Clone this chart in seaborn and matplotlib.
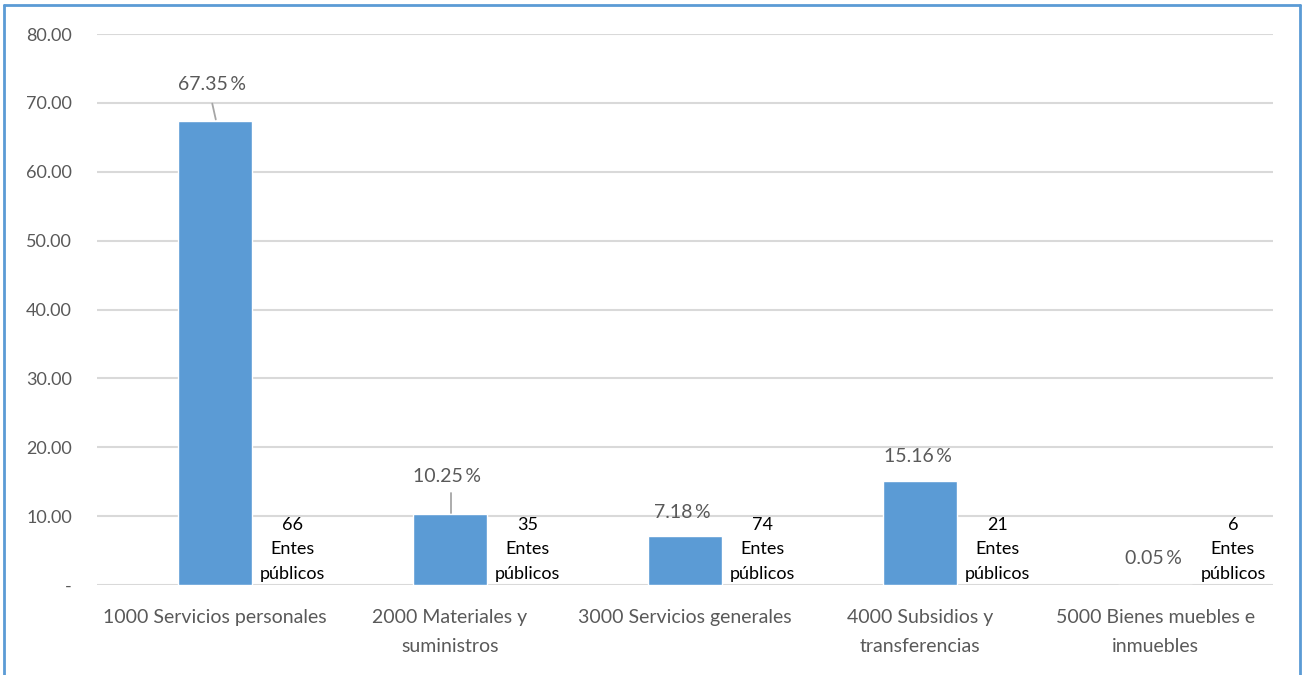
import matplotlib
matplotlib.use("Agg")
import matplotlib.pyplot as plt
import seaborn as sns
import pandas as pd
from matplotlib.lines import Line2D

categories = ["1000 Servicios personales", "2000 Materiales y\nsuministros",
              "3000 Servicios generales", "4000 Subsidios y\ntransferencias",
              "5000 Bienes muebles e\ninmuebles"]
porcentajes = [67.35, 10.25, 7.18, 15.16, 0.05]
entes = [66, 35, 74, 21, 6]
yticks = [0, 10, 20, 30, 40, 50, 60, 70, 80]
yticklabels = ["-", "10.00", "20.00", "30.00", "40.00", "50.00", "60.00", "70.00", "80.00"]

sns.set_theme(style="white")
plt.rcParams['font.family'] = ['Lato', 'DejaVu Sans']

fig = plt.figure(figsize=(13.04, 6.75), dpi=100)
ax = fig.add_axes([0.0744, 0.1333, 0.9018, 0.8163])

df = pd.DataFrame({"cat": categories, "pct": porcentajes})
sns.barplot(data=df, x="cat", y="pct", color="#5B9BD5", saturation=1,
            width=0.315, ax=ax, zorder=3)

ax.set_ylim(0, 80)
ax.set_xlim(-0.5, len(categories) - 0.5)
ax.set_yticks(yticks)
ax.set_yticklabels(yticklabels, fontsize=13, color="#595959")
ax.set_xticks(range(len(categories)))
ax.set_xticklabels(categories, fontsize=14, color="#595959", linespacing=1.9)
ax.tick_params(axis="x", length=0, pad=17)
ax.tick_params(axis="y", length=0, pad=18)
ax.set_xlabel("")
ax.set_ylabel("")
for s in ax.spines.values():
    s.set_visible(False)
for y in yticks:
    ax.axhline(y, color="#D9D9D9", lw=1.5, zorder=1)

gray = "#595959"
label_y = [72.6, 15.7, 10.6, 18.7, 3.9]
for i, (p, ly) in enumerate(zip(porcentajes, label_y)):
    ax.text(i - 0.01, ly, f"{p:.2f}\u2009%", ha="center", va="center",
            fontsize=14, color=gray, zorder=4)
ax.plot([-0.01, 0.005], [69.9, 67.6], color="#A6A6A6", lw=1.3, zorder=4)
ax.plot([1.005, 1.005], [13.3, 10.4], color="#A6A6A6", lw=1.3, zorder=4)

for i, n in enumerate(entes):
    ax.text(i + 0.33, 0.5, f"{n}\nEntes\npúblicos", ha="center", va="bottom",
            fontsize=13, color="black", linespacing=1.65, zorder=4)

bc = "#5B9BD5"
fig.add_artist(Line2D([0.0034, 0.0034], [0, 0.9926], transform=fig.transFigure, color=bc, lw=2))
fig.add_artist(Line2D([0.0034, 0.9969], [0.9926, 0.9926], transform=fig.transFigure, color=bc, lw=2))
fig.add_artist(Line2D([0.9969, 0.9969], [0, 0.9926], transform=fig.transFigure, color=bc, lw=2))

fig.savefig("out.png", dpi=100)
